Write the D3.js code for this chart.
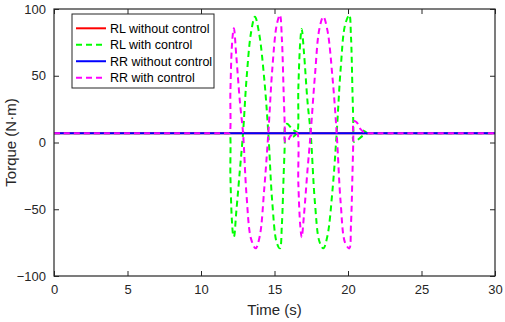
<!DOCTYPE html>
<html>
<head>
<meta charset="utf-8">
<script src="https://cdn.jsdelivr.net/npm/d3@7"></script>
<style>
  html, body { margin: 0; padding: 0; background: #fff; }
  svg { display: block; font-family: "Liberation Sans", Arial, sans-serif; }
</style>
</head>
<body>
<svg id="chart" width="505" height="322"></svg>
<script>
// ---------- data ----------
const xTicks = [0, 5, 10, 15, 20, 25, 30];
const yTicks = [-100, -50, 0, 50, 100];
const seriesNames = ["RL without control", "RL with control", "RR without control", "RR with control"];
const seriesColors = ["#ff0000", "#00ff00", "#0000ff", "#ff00ff"];
const seriesDashed = [false, true, false, true];

const timeRLwithout = [0, 30];
const torqueRLwithout = [7, 7];

const timeRRwithout = [0, 30];
const torqueRRwithout = [7, 7];

const timeRLwith = [0, 11.0, 11.9, 11.95, 12.0, 12.1, 12.2, 12.24, 12.4, 12.65, 12.86, 13.1, 13.4, 13.67, 13.95, 14.3, 14.58, 14.85, 15.15, 15.37, 15.5, 15.62, 15.7, 15.68, 15.72, 15.85, 16.25, 16.6, 16.3, 16.45, 16.55, 16.62, 16.75, 16.85, 17.0, 17.25, 17.46, 17.75, 18.05, 18.32, 18.6, 18.95, 19.23, 19.5, 19.8, 20.09, 20.2, 20.3, 20.36, 20.33, 20.4, 20.6, 21.0, 21.29, 21.0, 21.15, 21.5, 22.0, 30];
const torqueRLwith = [7, 7, 7, 7, -25, -58, -70, -70.6, -52, -20, 7, 48, 82, 94.2, 82, 48, 7, -45, -75, -79.3, -62, -25, 2, 7, 12, 14, 9.5, 7, 4.5, 6, 7, 40, 75, 85, 68, 30, 7, -45, -74, -79.3, -70, -35, 7, 55, 88, 95.5, 80, 40, 7, 3, 0.5, 1.5, 5, 7, 9, 7.5, 7, 7, 7];

const timeRRwith = [0, 11.0, 11.9, 11.95, 12.0, 12.1, 12.2, 12.24, 12.4, 12.65, 12.86, 13.1, 13.4, 13.72, 14.0, 14.3, 14.58, 14.85, 15.15, 15.37, 15.5, 15.62, 15.7, 15.68, 15.74, 15.9, 16.1, 16.45, 16.55, 16.62, 16.75, 16.85, 17.0, 17.25, 17.46, 17.75, 18.05, 18.32, 18.6, 18.95, 19.23, 19.5, 19.8, 20.09, 20.2, 20.3, 20.36, 20.34, 20.42, 20.6, 20.85, 21.2, 21.5, 22.0, 30];
const torqueRRwith = [7, 7, 7, 7, 38, 72, 84, 85.5, 65, 30, 7, -40, -72, -79.3, -70, -35, 7, 55, 88, 95.5, 78, 38, 7, 3, 0.5, 1, 5, 7, 7, -30, -62, -71, -55, -20, 7, 50, 85, 94.2, 84, 48, 7, -45, -75, -79.3, -62, -25, 7, 12, 16, 15, 10, 7, 7, 7, 7];

// ---------- layout ----------
const plotL = 54, plotR = 495, plotT = 9, plotB = 276;
const ink = "#262626";

const svg = d3.select("#chart");
const x = d3.scaleLinear().domain([0, 30]).range([plotL, plotR]);
const y = d3.scaleLinear().domain([-100, 100]).range([plotB, plotT]);

// clip
svg.append("defs").append("clipPath").attr("id", "clip")
  .append("rect").attr("x", plotL).attr("y", plotT).attr("width", plotR - plotL).attr("height", plotB - plotT);

svg.append("rect").attr("x", plotL).attr("y", plotT).attr("width", plotR - plotL).attr("height", plotB - plotT).attr("fill", "#fff");

// series
const seriesData = [
  [timeRLwithout, torqueRLwithout],
  [timeRLwith, torqueRLwith],
  [timeRRwithout, torqueRRwithout],
  [timeRRwith, torqueRRwith]
];
const line = d3.line().x(d => x(d[0])).y(d => y(d[1])).curve(d3.curveCatmullRom.alpha(0.5));
const gLines = svg.append("g").attr("clip-path", "url(#clip)");
seriesData.forEach((s, i) => {
  const pts = s[0].map((t, k) => [t, s[1][k]]);
  gLines.append("path")
    .datum(pts)
    .attr("d", line)
    .attr("fill", "none")
    .attr("stroke", seriesColors[i])
    .attr("stroke-width", 2)
    .attr("stroke-dasharray", seriesDashed[i] ? "6,4" : null);
});

// axes
const tickLen = 5;
const xAxisB = d3.axisBottom(x).tickValues(xTicks).tickSizeInner(-tickLen).tickSizeOuter(0).tickPadding(9);
const xAxisT = d3.axisTop(x).tickValues(xTicks).tickSizeInner(-tickLen).tickSizeOuter(0).tickFormat("");
const yAxisL = d3.axisLeft(y).tickValues(yTicks).tickSizeInner(-tickLen).tickSizeOuter(0).tickPadding(8);
const yAxisR = d3.axisRight(y).tickValues(yTicks).tickSizeInner(-tickLen).tickSizeOuter(0).tickFormat("");

function styleAxis(g) {
  g.select(".domain").remove();
  g.selectAll(".tick line").attr("stroke", ink).attr("stroke-width", 1);
  g.selectAll(".tick text").attr("fill", ink).style("font-size", "13px").style("font-family", "'Liberation Sans', Arial, sans-serif");
}
svg.append("g").attr("transform", `translate(0,${plotB})`).call(xAxisB).call(styleAxis);
svg.append("g").attr("transform", `translate(0,${plotT})`).call(xAxisT).call(styleAxis);
svg.append("g").attr("transform", `translate(${plotL},0)`).call(yAxisL).call(styleAxis);
svg.append("g").attr("transform", `translate(${plotR},0)`).call(yAxisR).call(styleAxis);

// frame
svg.append("rect").attr("x", plotL).attr("y", plotT).attr("width", plotR - plotL).attr("height", plotB - plotT)
  .attr("fill", "none").attr("stroke", ink).attr("stroke-width", 1.2);

// axis labels
svg.append("text").attr("x", (plotL + plotR) / 2).attr("y", 315).attr("text-anchor", "middle")
  .attr("fill", ink).style("font-size", "15px").text("Time (s)");
svg.append("text").attr("transform", `translate(15.5,${(plotT + plotB) / 2}) rotate(-90)`).attr("text-anchor", "middle")
  .attr("fill", ink).style("font-size", "15px").text("Torque (N·m)");

// legend
const lg = svg.append("g");
const lgX = 72, lgY = 14, lgW = 142, lgH = 74;
lg.append("rect").attr("x", lgX).attr("y", lgY).attr("width", lgW).attr("height", lgH)
  .attr("fill", "#fff").attr("stroke", ink).attr("stroke-width", 1);
const rowY = d3.scaleLinear().domain([0, 3]).range([28.3, 77.7]);
seriesNames.forEach((name, i) => {
  const yy = rowY(i);
  lg.append("line").attr("x1", 76).attr("x2", 106).attr("y1", yy).attr("y2", yy)
    .attr("stroke", seriesColors[i]).attr("stroke-width", 2)
    .attr("stroke-dasharray", seriesDashed[i] ? "6,4" : null);
  lg.append("text").attr("x", 110).attr("y", yy + 4.5).attr("fill", "#000")
    .style("font-size", "12.5px").text(name);
});
</script>
</body>
</html>
